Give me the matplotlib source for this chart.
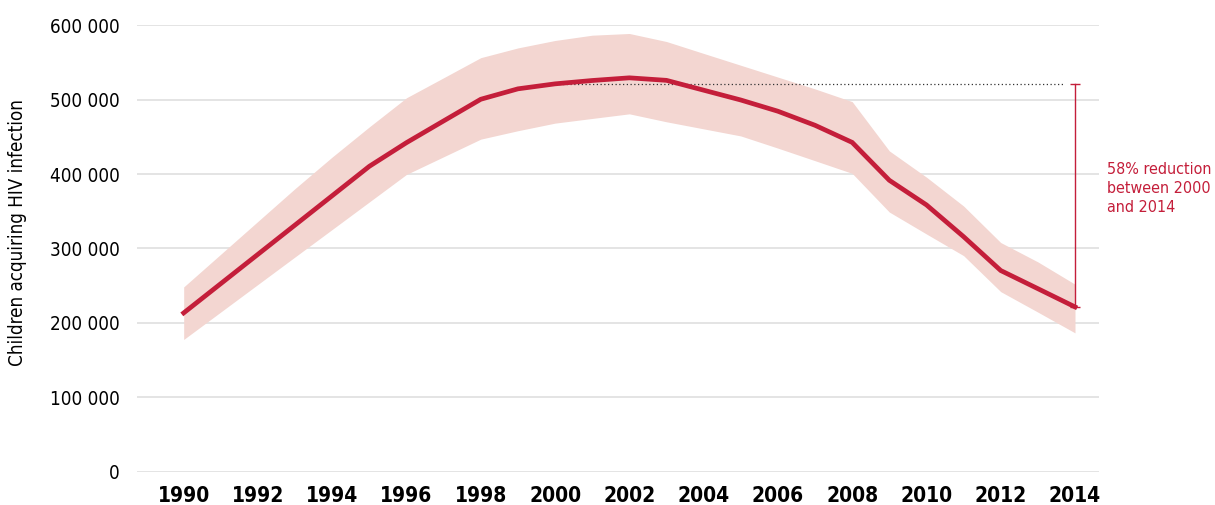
import matplotlib
matplotlib.use("Agg")
import matplotlib.pyplot as plt
from matplotlib.ticker import FuncFormatter

plt.rcParams['font.family'] = ['DejaVu Sans']
plt.rcParams['font.stretch'] = 'condensed'

years = list(range(1990, 2015))
central = [213400, 252800, 292200, 331600, 371000, 410500, 442300, 471500, 500600,
           514600, 521300, 525800, 529400, 526000, 512800, 499600, 484500, 465600,
           442600, 391700, 358600, 315900, 270400, 246000, 221500]
upper = [248300, 292400, 336500, 380600, 423000, 463500, 502600, 529500, 556500,
         569600, 579600, 586700, 589000, 578200, 562200, 546300, 530400, 514500,
         497400, 431200, 395900, 357100, 308000, 282000, 252000]
lower = [177700, 214700, 251700, 288700, 325600, 362600, 399600, 423300, 447000,
         458300, 468500, 474800, 481000, 470300, 460800, 451300, 434900, 418000,
         401000, 349000, 319500, 290400, 242000, 214500, 186600]
xtick_years = list(range(1990, 2015, 2))
yticks = [0, 100000, 200000, 300000, 400000, 500000, 600000]
ylabel = "Children acquiring HIV infection"
annotation = "58% reduction\nbetween 2000\nand 2014"
ref_year = 2000
end_year = 2014

RED = "#c41e3a"
BAND = "#f3d6d1"

fig = plt.figure(figsize=(12.15, 5.05), dpi=100)
ax = fig.add_axes([136.7 / 1215, (505 - 471.7) / 505, (1099 - 136.7) / 1215, (471.7 - 25.3) / 505])

ax.fill_between(years, lower, upper, color=BAND, linewidth=0, zorder=1)
ax.plot(years, central, color=RED, lw=3.4, solid_joinstyle='miter', zorder=3)

ref_val = central[years.index(ref_year)]
end_val = central[years.index(end_year)]
ax.hlines(ref_val, ref_year, end_year - 0.3, colors="#333333", linestyles=(0, (1, 2)), lw=0.9, zorder=2)
ax.plot([end_year, end_year], [ref_val, end_val], color=RED, lw=1.0, zorder=4)
ax.plot([end_year, end_year], [ref_val, end_val], ls='none', marker='_', ms=7, mew=1.0, color=RED, zorder=4)

ax.text(end_year + 0.85, 0.5 * (ref_val + end_val) + 9000, annotation, color=RED,
        fontsize=11.5, va='center', ha='left', linespacing=1.35)

ax.set_xlim(1988.735, 2014.646)
ax.set_ylim(0, 600000)
ax.set_yticks(yticks)
ax.yaxis.set_major_formatter(FuncFormatter(lambda v, p: f"{int(v):,}".replace(",", " ")))
ax.set_xticks(xtick_years)
ax.set_xticklabels([str(y) for y in xtick_years], fontweight='bold', fontsize=15)
for lab in ax.get_yticklabels():
    lab.set_fontsize(13.5)
ax.tick_params(axis='both', length=0)
ax.tick_params(axis='y', pad=12)
ax.tick_params(axis='x', pad=10)
ax.grid(axis='y', color="#dddddd", lw=1.1)
ax.set_axisbelow(True)
for s in ax.spines.values():
    s.set_visible(False)

ax.set_ylabel(ylabel, fontsize=13.5)
ax.yaxis.set_label_coords(-(136.7 - 27) / (1099 - 136.7), (471.7 - 233) / (471.7 - 25.3))

fig.savefig("out.png", dpi=100)
